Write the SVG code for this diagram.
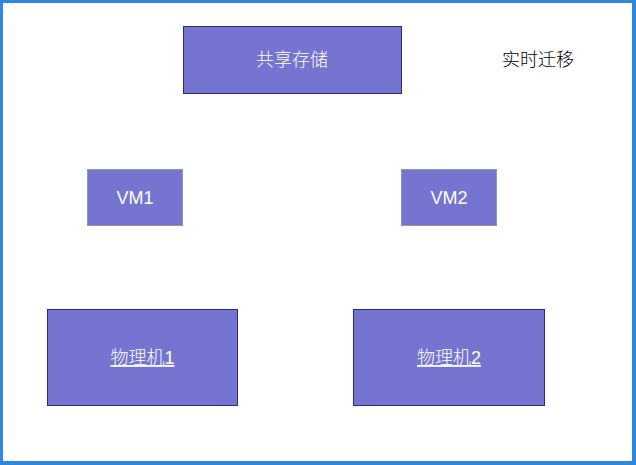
<svg xmlns="http://www.w3.org/2000/svg" width="636" height="465" viewBox="0 0 636 465">
<style>
.box{fill:#7575d1;stroke:#2b2b7c;stroke-width:1}
.vm{fill:#7575d1;stroke:#8a9aa6;stroke-width:1}
.lbl{font-family:"Liberation Sans","Noto Sans CJK SC",sans-serif;font-size:18px;fill:#ffffff;text-anchor:middle;font-weight:300}
.u{text-decoration:underline}
.note{font-family:"Liberation Sans","Noto Sans CJK SC",sans-serif;font-size:18px;fill:#000000;text-anchor:middle;font-weight:300}
</style>
<rect x="0" y="0" width="636" height="465" fill="#ffffff"/>
<path d="M0 0H636V465H0Z M3 3V461H632V3Z" fill="#2e88e0" fill-rule="evenodd"/>
<g id="connectors"></g>
<g id="storage">
<rect class="box" x="183.5" y="26.5" width="218" height="67"/>
<text class="lbl" x="292" y="66">共享存储</text>
</g>
<g id="vm1">
<rect class="vm" x="87.5" y="169.5" width="95" height="56"/>
<text class="lbl" x="135" y="203.5">VM1</text>
</g>
<g id="vm2">
<rect class="vm" x="401.5" y="169.5" width="95" height="56"/>
<text class="lbl" x="449" y="203.5">VM2</text>
</g>
<g id="host1">
<rect class="box" x="47.5" y="309.5" width="190" height="96"/>
<text class="lbl u" x="142.5" y="364">物理机1</text>
</g>
<g id="host2">
<rect class="box" x="353.5" y="309.5" width="191" height="96"/>
<text class="lbl u" x="449" y="364">物理机2</text>
</g>
<g id="migration">
<text class="note" x="538" y="66">实时迁移</text>
</g>
</svg>
